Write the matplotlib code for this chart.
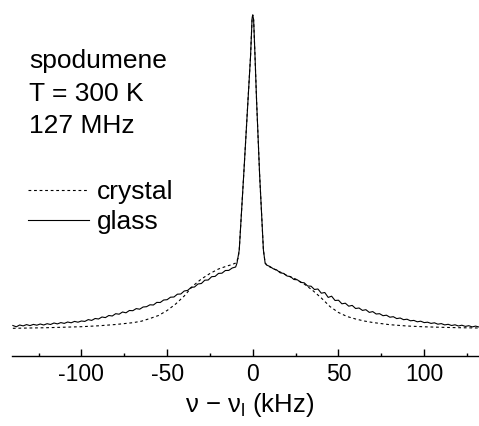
import matplotlib
matplotlib.use('Agg')
import matplotlib.pyplot as plt
from matplotlib.ticker import MultipleLocator

plt.rcParams['font.family'] = ['Liberation Sans', 'DejaVu Sans']
plt.rcParams['mathtext.fontset'] = 'custom'
plt.rcParams['mathtext.rm'] = 'Liberation Sans'
plt.rcParams['axes.unicode_minus'] = False

# central line shared by both spectra (kHz, arb. units)
peak_khz = [-7.9, -5.3, -2.8, -1.3, -0.4, 0.0, 0.5, 1.3, 2.2, 4.0, 6.2]
peak_int = [106, 181, 256, 300, 338, 341, 336, 300, 256, 181, 106]

# crystal (dashed) wings
crystal_left_khz = [-140, -130, -120, -110, -100, -90, -80, -70, -65, -60, -55, -50,
                    -45, -40, -35, -30, -25, -20, -15, -12, -10, -8.5]
crystal_left_int = [27.7, 28.0, 28.3, 28.8, 29.3, 30.2, 31.5, 33.3, 34.8, 37.5, 40.5, 45.5,
                    52.0, 60.0, 70.0, 77.0, 82.5, 87.0, 90.0, 91.5, 93.0, 98.0]
crystal_right_khz = [7.2, 8.5, 10, 13, 16, 20, 25, 30, 35, 40, 45, 50, 55, 60, 65, 70,
                     80, 90, 100, 110, 120, 132]
crystal_right_int = [93.0, 90.5, 89.0, 86.5, 84.0, 80.5, 77.0, 72.0, 65.5, 58.0, 49.5, 43.5,
                     39.5, 37.0, 35.0, 33.5, 31.3, 30.0, 29.2, 28.7, 28.3, 28.0]

# glass (solid) wings, noisy
glass_left_khz = [-140, -138, -136, -134, -132, -130, -128, -126, -124, -122, -120, -118,
                  -116, -114, -112, -110, -108, -106, -104, -102, -100, -98, -96, -94,
                  -92, -90, -88, -86, -84, -82, -80, -78, -76, -74, -72, -70, -68, -66,
                  -64, -62, -60, -58, -56, -54, -52, -50, -48, -46, -44, -42, -40, -38,
                  -36, -34, -32, -30, -28, -26, -24, -22, -20, -18, -16, -14, -12, -10, -9.2]
glass_left_int = [30.5, 29.2, 31.0, 30.1, 31.4, 30.4, 31.6, 30.8, 32.0, 31.0, 32.3, 31.5,
                  33.0, 32.1, 33.4, 32.6, 34.0, 33.2, 34.6, 33.8, 35.0, 34.6, 36.4, 35.6,
                  37.5, 37.0, 39.0, 38.4, 40.5, 40.0, 42.3, 41.8, 44.0, 43.2, 45.5, 45.3,
                  47.4, 46.8, 49.0, 49.3, 51.2, 51.0, 53.6, 53.5, 56.0, 56.3, 58.8, 59.0,
                  61.8, 62.0, 65.0, 65.6, 68.6, 69.0, 72.0, 72.5, 75.8, 76.0, 79.3, 79.6,
                  82.6, 82.8, 85.5, 85.6, 88.0, 89.0, 93.0]
glass_right_khz = [7.2, 8, 10, 12, 14, 16, 18, 20, 22, 24, 26, 28, 30, 32, 34, 36, 38, 40,
                   42, 44, 46, 48, 50, 52, 54, 56, 58, 60, 62, 64, 66, 68, 70, 72, 74, 76,
                   78, 80, 82, 84, 86, 88, 90, 92, 94, 96, 98, 100, 102, 104, 106, 108,
                   110, 112, 114, 116, 118, 120, 122, 124, 126, 128, 130, 132]
glass_right_int = [93.0, 91.0, 89.5, 87.2, 86.0, 83.2, 82.6, 80.0, 79.4, 76.5, 76.2, 73.6,
                   73.2, 70.0, 69.8, 66.5, 67.0, 62.8, 63.5, 58.6, 59.8, 55.5, 55.8, 52.2,
                   52.8, 49.8, 50.6, 47.5, 48.0, 45.6, 46.3, 43.6, 44.4, 42.0, 42.3, 40.3,
                   40.8, 38.8, 39.3, 37.4, 38.0, 36.3, 36.8, 35.2, 35.6, 34.2, 34.8, 33.4,
                   33.8, 32.6, 33.2, 31.8, 32.4, 31.1, 31.7, 30.5, 31.2, 30.0, 30.8, 29.6,
                   30.3, 29.1, 29.9, 29.0]

crystal_x = crystal_left_khz + peak_khz + crystal_right_khz
crystal_y = crystal_left_int + peak_int + crystal_right_int
glass_x = glass_left_khz + peak_khz + glass_right_khz
glass_y = glass_left_int + peak_int + glass_right_int

fig = plt.figure(figsize=(4.79, 4.26), dpi=100)
ax = fig.add_axes([12 / 479, 1 - 356 / 426, 1 - 12 / 479, (356 - 5) / 426])

ax.plot(crystal_x, crystal_y, color='black', lw=0.8, ls=(0, (2.5, 2.5)), label='crystal')
ax.plot(glass_x, glass_y, color='black', lw=0.8, label='glass')

ax.set_xlim(-140.5, 132)
ax.set_ylim(0, 351)
for s in ['left', 'right', 'top']:
    ax.spines[s].set_visible(False)
ax.spines['bottom'].set_linewidth(1.0)
ax.set_yticks([])
ax.xaxis.set_major_locator(MultipleLocator(50))
ax.xaxis.set_minor_locator(MultipleLocator(25))
ax.tick_params(axis='x', which='major', direction='in', length=5, width=1, labelsize=16.5, pad=5)
ax.tick_params(axis='x', which='minor', direction='in', length=2.5, width=1)
ax.set_xlabel('ν − ν$_\\mathregular{l}$ (kHz)', fontsize=18.5)
ax.xaxis.set_label_coords((250 - 12) / 467, -0.1)

fig.text(29 / 479, 1 - 68 / 426, 'spodumene', fontsize=19, va='baseline')
fig.text(29 / 479, 1 - 101 / 426, 'T = 300 K', fontsize=19, va='baseline')
fig.text(29 / 479, 1 - 133 / 426, '127 MHz', fontsize=19, va='baseline')

ax.legend(loc='upper left', bbox_to_anchor=(28 / 479, 1 - 180 / 426),
          bbox_transform=fig.transFigure, frameon=False, fontsize=19,
          borderpad=0, borderaxespad=0, handlelength=2.3, handletextpad=0.3,
          labelspacing=0.23)

fig.savefig('out.png', dpi=100)
